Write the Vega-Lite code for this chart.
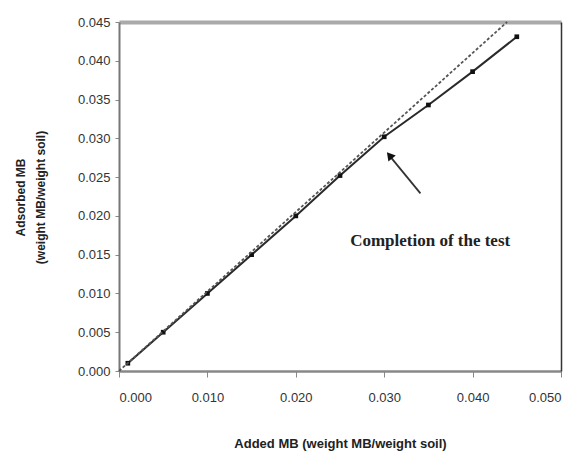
{
  "$schema": "https://vega.github.io/schema/vega-lite/v6.json",
  "width": 442,
  "height": 349,
  "autosize": {"type": "none"},
  "padding": {"left": 119, "top": 22, "right": 21, "bottom": 82},
  "background": "white",
  "config": {"view": {"stroke": null}, "font": "Liberation Sans"},
  "datasets": {
    "measured": [
      {"added": 0.001, "adsorbed": 0.001},
      {"added": 0.005, "adsorbed": 0.005},
      {"added": 0.010, "adsorbed": 0.010},
      {"added": 0.015, "adsorbed": 0.015},
      {"added": 0.020, "adsorbed": 0.020},
      {"added": 0.025, "adsorbed": 0.0252},
      {"added": 0.030, "adsorbed": 0.0302},
      {"added": 0.035, "adsorbed": 0.0343},
      {"added": 0.040, "adsorbed": 0.0386},
      {"added": 0.045, "adsorbed": 0.0431}
    ],
    "ideal": [
      {"added": 0.0, "adsorbed": 0.0},
      {"added": 0.0439, "adsorbed": 0.045}
    ],
    "arrow": [
      {"added": 0.0341, "adsorbed": 0.0229},
      {"added": 0.0305, "adsorbed": 0.0279}
    ],
    "arrowhead": [
      {"added": 0.0306, "adsorbed": 0.0278}
    ],
    "note": [
      {"added": 0.0352, "adsorbed": 0.0168, "label": "Completion of the test"}
    ]
  },
  "layer": [
    {
      "data": {"name": "measured"},
      "mark": {"type": "line", "color": "#2a2a2a", "strokeWidth": 2,
               "point": {"shape": "square", "size": 22, "filled": true, "color": "#111"}},
      "encoding": {
        "x": {"field": "added", "type": "quantitative",
              "scale": {"domain": [0, 0.05], "nice": false},
              "axis": {"orient": "bottom", "values": [0, 0.01, 0.02, 0.03, 0.04, 0.05], "format": ".3f",
                       "grid": false, "domainColor": "#888", "domainWidth": 2.5, "tickColor": "#888", "tickSize": 6,
                       "labelPadding": 14, "labelFontSize": 13, "labelColor": "#333",
                       "title": "Added MB (weight MB/weight soil)", "titleFontSize": 13, "titleFontWeight": "bold",
                       "titleColor": "#222", "titleBaseline": "middle", "titleY": 72}},
        "y": {"field": "adsorbed", "type": "quantitative",
              "scale": {"domain": [0, 0.045], "nice": false},
              "axis": {"orient": "left", "values": [0, 0.005, 0.01, 0.015, 0.02, 0.025, 0.03, 0.035, 0.04, 0.045], "format": ".3f",
                       "grid": false, "domainColor": "#777", "domainWidth": 2, "tickColor": "#888", "tickSize": 4,
                       "labelPadding": 5, "labelFontSize": 13, "labelColor": "#333",
                       "title": ["Adsorbed MB", "(weight MB/weight soil)"], "titleFontSize": 12, "titleFontWeight": "bold",
                       "titleColor": "#222", "titleAngle": -90, "titleX": -99, "titleY": 175, "titleAlign": "center",
                       "titleBaseline": "middle", "titleLineHeight": 20}}
      }
    },
    {
      "data": {"name": "ideal"},
      "mark": {"type": "line", "color": "#555", "strokeWidth": 1.8, "strokeDash": [3, 2]},
      "encoding": {
        "x": {"field": "added", "type": "quantitative",
              "axis": {"orient": "top", "labels": false, "ticks": false, "title": null, "grid": false,
                       "domainColor": "#aaa", "domainWidth": 4}},
        "y": {"field": "adsorbed", "type": "quantitative",
              "axis": {"orient": "right", "labels": false, "ticks": false, "title": null, "grid": false,
                       "domainColor": "#333", "domainWidth": 1.5}}
      }
    },
    {
      "data": {"name": "arrow"},
      "mark": {"type": "line", "color": "#333", "strokeWidth": 1.8},
      "encoding": {
        "x": {"field": "added", "type": "quantitative", "axis": null},
        "y": {"field": "adsorbed", "type": "quantitative", "axis": null}
      }
    },
    {
      "data": {"name": "arrowhead"},
      "mark": {"type": "point", "shape": "triangle-up", "filled": true, "color": "#111", "size": 90, "angle": 321, "opacity": 1},
      "encoding": {
        "x": {"field": "added", "type": "quantitative", "axis": null},
        "y": {"field": "adsorbed", "type": "quantitative", "axis": null}
      }
    },
    {
      "data": {"name": "note"},
      "mark": {"type": "text", "font": "Liberation Serif", "fontSize": 17, "fontWeight": "bold", "color": "#222", "align": "center", "baseline": "middle"},
      "encoding": {
        "x": {"field": "added", "type": "quantitative", "axis": null},
        "y": {"field": "adsorbed", "type": "quantitative", "axis": null},
        "text": {"field": "label"}
      }
    }
  ],
  "resolve": {"axis": {"x": "independent", "y": "independent"}}
}
